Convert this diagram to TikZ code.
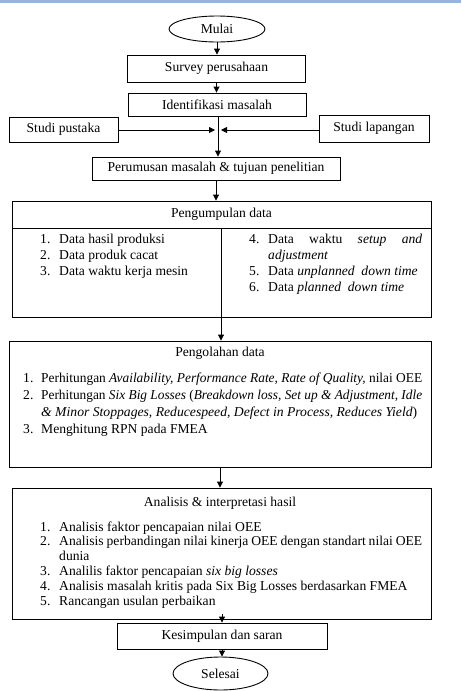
\documentclass[tikz,border=0pt]{standalone}
\usepackage{fontspec}
\usepackage{graphicx}
\setmainfont{Liberation Serif}
\usetikzlibrary{arrows.meta,shapes.geometric}
\definecolor{topblue}{RGB}{150,180,225}
\newcommand{\fitline}[2]{\resizebox{#1}{\height}{#2}}
\begin{document}
\begin{tikzpicture}[x=1pt,y=-1pt, font=\fontsize{13.6}{16}\selectfont,
 box/.style={draw, line width=0.9pt, rectangle, inner sep=0pt, align=center},
 oval/.style={draw, line width=0.9pt, ellipse, inner sep=0pt},
 arr/.style={line width=0.9pt, -{Triangle[length=6pt,width=6pt]}},
 ln/.style={anchor=base west, inner sep=0pt}]
\useasboundingbox (0,0) rectangle (461,691);
\fill[topblue] (0,0) rectangle (461,2.5);
% main boxes
\node[oval, minimum width=96pt, minimum height=26pt] (mulai) at (217,29) {Mulai};
\node[box, minimum width=178pt, minimum height=27pt] (survey) at (216.5,68.5) {Survey perusahaan};
\node[box, minimum width=178pt, minimum height=23pt] (ident) at (217,104.5) {Identifikasi masalah};
\node[box, minimum width=109pt, minimum height=25pt] (pustaka) at (63.5,129.5) {Studi pustaka};
\node[box, minimum width=110pt, minimum height=27pt] (lapangan) at (374,128.5) {Studi lapangan};
\node[box, minimum width=248pt, minimum height=23pt] (rumus) at (216,168.5) {Perumusan masalah \& tujuan penelitian};
\node[box, minimum width=419pt, minimum height=27pt] (kumpul) at (221.5,214.5) {Pengumpulan data};
\node[box, minimum width=419pt, minimum height=89pt] (kumpulbody) at (221.5,272.5) {};
\coordinate (divtop) at (221,228);
\coordinate (divbot) at (221,317);
\draw[line width=0.9pt] (divtop) -- (divbot);
\node[box, minimum width=422pt, minimum height=126pt] (olah) at (220,404) {};
\node (olahtitle) at (220,353) {Pengolahan data};
\node[box, minimum width=419pt, minimum height=131pt] (analisis) at (221.5,553.5) {};
\node (anatitle) at (220,503) {Analisis \& interpretasi hasil};
\node[box, minimum width=210pt, minimum height=26pt] (simpul) at (222,636) {Kesimpulan dan saran};
\node[oval, minimum width=95pt, minimum height=33pt] (selesai) at (220.5,673.5) {Selesai};
% connectors
\draw[arr] (mulai.south) -- (mulai.south |- survey.north);
\draw[arr] (survey.south) -- (survey.south |- ident.north);
\coordinate (jn) at (218,130);
\coordinate (jl) at (215,130);
\coordinate (jr) at (221,130);
\draw[arr] (ident.south -| jn) -- (jn |- rumus.north);
\draw[arr] (pustaka.east |- jl) -- (jl);
\draw[arr] (lapangan.west |- jr) -- (jr);
\draw[arr] (rumus.south) -- (rumus.south |- kumpul.north);
\draw[arr] (divbot) -- (divbot |- olah.north);
\draw[arr] (olah.south) -- (olah.south |- analisis.north);
\draw[arr] ([yshift=5pt]analisis.south -| simpul.north) -- (simpul.north);
\draw[arr] (simpul.south) -- (simpul.south |- selesai.north);
% Pengumpulan data lists
\node[ln] (k1n) at (40,243) {1.};  \node[ln] (k1) at (59,243) {Data hasil produksi};
\node[ln] (k2n) at (40,259) {2.};  \node[ln] (k2) at (59,259) {Data produk cacat};
\node[ln] (k3n) at (40,275) {3.};  \node[ln] (k3) at (59,275) {Data waktu kerja mesin};
\node[ln] (k4n) at (249,243) {4.}; \node[ln] (k4) at (268,243) {\makebox[154pt][s]{Data waktu \textit{setup and}}};
\node[ln] (k4b) at (268,259) {\textit{adjustment}};
\node[ln] (k5n) at (249,275) {5.}; \node[ln] (k5) at (268,275) {Data \textit{unplanned\ \ down time}};
\node[ln] (k6n) at (249,291) {6.}; \node[ln] (k6) at (268,291) {Data \textit{planned\ \ down time}};
% Pengolahan data list
\node[ln] (o1n) at (23,382.5) {1.};
\node[ln] (o1) at (41,382.5) {\fitline{381pt}{Perhitungan \textit{Availability, Performance Rate, Rate of Quality,} nilai OEE}};
\node[ln] (o2n) at (23,399) {2.};
\node[ln] (o2) at (41,399) {\fitline{381pt}{Perhitungan \textit{Six Big Losses} (\textit{Breakdown loss, Set up \& Adjustment, Idle}}};
\node[ln] (o2b) at (41,416) {\fitline{376pt}{\textit{\& Minor Stoppages, Reducespeed, Defect in Process, Reduces Yield})}};
\node[ln] (o3n) at (23,433.5) {3.};
\node[ln] (o3) at (41,433.5) {Menghitung RPN pada FMEA};
% Analisis list
\node[ln] (a1n) at (40,531) {1.};   \node[ln] (a1) at (59,531) {Analisis faktor pencapaian nilai OEE};
\node[ln] (a2n) at (40,545.5) {2.}; \node[ln] (a2) at (59,545.5) {\makebox[363pt][s]{Analisis perbandingan nilai kinerja OEE dengan standart nilai OEE}};
\node[ln] (a2b) at (59,560) {dunia};
\node[ln] (a3n) at (40,575.5) {3.}; \node[ln] (a3) at (59,575.5) {Analilis faktor pencapaian \textit{six big losses}};
\node[ln] (a4n) at (40,590.5) {4.}; \node[ln] (a4) at (59,590.5) {Analisis masalah kritis pada Six Big Losses berdasarkan FMEA};
\node[ln] (a5n) at (40,605.5) {5.}; \node[ln] (a5) at (59,605.5) {Rancangan usulan perbaikan};
\end{tikzpicture}
\end{document}
